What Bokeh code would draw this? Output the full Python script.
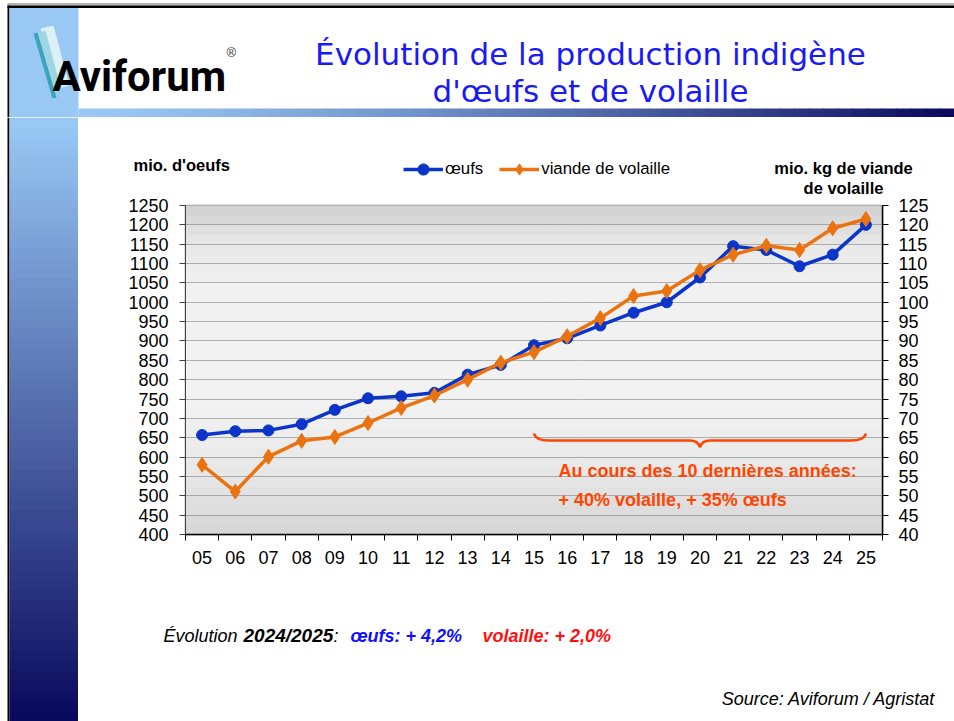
import numpy as np
from bokeh.plotting import figure
from bokeh.layouts import column, row
from bokeh.models import (Range1d, LinearAxis, FixedTicker, Label, BoxAnnotation,
                          Legend, LegendItem, ColumnDataSource)
from bokeh.embed import file_html
from bokeh.resources import INLINE

# ---------------- data ----------------
years = ["05", "06", "07", "08", "09", "10", "11", "12", "13", "14", "15",
         "16", "17", "18", "19", "20", "21", "22", "23", "24", "25"]
eggs = [657, 667, 669, 685, 722, 752, 757, 766, 813, 838, 889,
        907, 940, 973, 1000, 1064, 1145, 1135, 1093, 1123, 1200]
poultry = [58.0, 51.1, 60.1, 64.2, 65.2, 68.8, 72.7, 75.9, 80.0, 84.4, 87.1,
           91.2, 95.9, 101.6, 102.9, 108.3, 112.3, 114.6, 113.5, 119.1, 121.5]
left_ticks = [400, 450, 500, 550, 600, 650, 700, 750, 800, 850, 900, 950,
              1000, 1050, 1100, 1150, 1200, 1250]
right_ticks = [40, 45, 50, 55, 60, 65, 70, 75, 80, 85, 90, 95,
               100, 105, 110, 115, 120, 125]
series_names = ["œufs", "viande de volaille"]
title_lines = ["Évolution de la production indigène", "d'œufs et de volaille"]

BLUE = "#0b35c9"
ORANGE = "#ea7310"
RED_ORANGE = "#ff4500"
FONT = "Liberation Sans"
LIGHT = (153, 200, 245)
NAVY = (10, 10, 94)

W, H = 954, 721
SIDE_W = 78
HEAD_H = 117
TOP_H = 79       # axis titles + legend strip
CHART_H = 404
NOTES_H = H - HEAD_H - TOP_H - CHART_H


def hexc(c):
    return "#%02x%02x%02x" % tuple(int(round(v)) for v in c)


def lerp(c0, c1, t):
    return hexc([a + (b - a) * t for a, b in zip(c0, c1)])


def deco_fig(w, h, x0, y0):
    f = figure(width=w, height=h, output_backend="svg", toolbar_location=None,
               x_range=Range1d(x0, x0 + w), y_range=Range1d(y0 + h, y0),
               x_axis_location=None, y_axis_location=None, min_border=0,
               outline_line_color=None, background_fill_color="white",
               border_fill_color="white")
    f.grid.visible = False
    return f


# ================= header =================
hd = deco_fig(W, HEAD_H, 0, 0)
hd.quad(left=[7], right=[W], top=[2.5], bottom=[5], fill_color="#b4b4b4", line_color=None)
hd.quad(left=[7], right=[W], top=[5], bottom=[7.5], fill_color="black", line_color=None)
hd.quad(left=[7], right=[9], top=[5], bottom=[HEAD_H], fill_color="black", line_color=None)
hd.quad(left=[9], right=[SIDE_W], top=[7.5], bottom=[HEAD_H], fill_color=hexc(LIGHT), line_color=None)
nt = 60
bx = np.linspace(SIDE_W, W, nt + 1)
bcols = [lerp(LIGHT, NAVY, (i / (nt - 1)) ** 1.3) for i in range(nt)]
hd.quad(left=bx[:-1], right=bx[1:] + 0.8, top=[108] * nt, bottom=[117] * nt,
        fill_color=bcols, line_color=None)
# feather of the logo
hd.patches(xs=[[40, 53, 69, 58], [36, 45, 61, 55], [33, 37, 56, 52]],
           ys=[[28, 25, 85, 88], [33, 30, 90, 93], [33, 32, 97, 98]],
           fill_color=["#dcf0f5", "#9fd6e4", "#3aa3bd"], line_color=None)
hd.add_layout(Label(x=52, y=76, text="Aviforum", text_font="Roboto", text_font_size="42px",
                    text_font_style="bold", text_color="black", text_baseline="alphabetic"))
hd.add_layout(Label(x=226, y=52, text="®", text_font=FONT, text_font_size="13px",
                    text_color="#333333", text_baseline="alphabetic"))
hd.add_layout(Label(x=590, y=53, text=title_lines[0], text_font="DejaVu Sans", text_font_size="31px",
                    text_color="#1a1af5", text_baseline="alphabetic", text_align="center"))
hd.add_layout(Label(x=590, y=90, text=title_lines[1], text_font="DejaVu Sans", text_font_size="31px",
                    text_color="#1a1af5", text_baseline="alphabetic", text_align="center"))

# ================= sidebar =================
sd = deco_fig(SIDE_W, H - HEAD_H, 0, HEAD_H)
sd.quad(left=[7], right=[9], top=[HEAD_H], bottom=[H], fill_color="black", line_color=None)
ns = 60
syv = np.linspace(HEAD_H, H, ns + 1)
scols = [lerp(LIGHT, NAVY, i / (ns - 1)) for i in range(ns)]
sd.quad(left=[9] * ns, right=[SIDE_W] * ns, top=syv[:-1], bottom=syv[1:] + 0.8,
        fill_color=scols, line_color=None)

# ================= axis titles + legend strip =================
tp = deco_fig(W - SIDE_W, TOP_H, SIDE_W, HEAD_H)
tp.add_layout(Label(x=133, y=164, text="mio. d'oeufs", text_font=FONT, text_font_size="16.5px",
                    text_font_style="bold", text_color="black", text_baseline="alphabetic"))
tp.add_layout(Label(x=843, y=167, text="mio. kg de viande", text_font=FONT, text_font_size="16.5px",
                    text_font_style="bold", text_color="black", text_baseline="alphabetic",
                    text_align="center"))
tp.add_layout(Label(x=843, y=187, text="de volaille", text_font=FONT, text_font_size="16.5px",
                    text_font_style="bold", text_color="black", text_baseline="alphabetic",
                    text_align="center"))
# legend proxies (same styles as the series of the chart; their point lies outside the strip)
proxy = ColumnDataSource(dict(x=[0], y=[-100]))
le0 = tp.line("x", "y", source=proxy, line_color=BLUE, line_width=3.5)
se0 = tp.scatter("x", "y", source=proxy, marker="circle", size=11, fill_color=BLUE, line_color=BLUE)
lp0 = tp.line("x", "y", source=proxy, line_color=ORANGE, line_width=3.5)
sp0 = tp.scatter("x", "y", source=proxy, marker="diamond", size=15, fill_color=ORANGE, line_color=ORANGE)
legend = Legend(items=[LegendItem(label=series_names[0], renderers=[le0, se0]),
                       LegendItem(label=series_names[1], renderers=[lp0, sp0])],
                orientation="horizontal", location=(403 - SIDE_W, 13), padding=0, margin=0,
                border_line_color=None, background_fill_alpha=0,
                label_text_font=FONT, label_text_font_size="16.8px", label_text_color="black",
                glyph_width=40, glyph_height=28, label_standoff=2, spacing=16)
tp.add_layout(legend, "center")

# ================= chart =================
CW = W - SIDE_W
FRAME_L, FRAME_R, FRAME_T, FRAME_B = 185, 882, 205, 534  # page px
y_off = HEAD_H + TOP_H
p = figure(width=CW, height=CHART_H, output_backend="svg", toolbar_location=None,
           x_range=Range1d(-0.5, len(years) - 0.5), y_range=Range1d(400, 1250),
           min_border_left=FRAME_L - SIDE_W, min_border_right=W - FRAME_R,
           min_border_top=FRAME_T - y_off, min_border_bottom=y_off + CHART_H - FRAME_B,
           background_fill_color="white", border_fill_color="white",
           outline_line_color="#8c8c8c", outline_line_width=1.5)
p.extra_y_ranges = {"right": Range1d(40, 125)}

nb = 34
edges = np.linspace(400, 1250, nb + 1)
for i in range(nb):
    ymid = (edges[i] + edges[i + 1]) / 2
    f = (1250 - ymid) / 850.0
    g = np.interp(f, [0, 0.12, 0.25, 0.6, 0.8, 1.0], [208, 232, 241, 242, 232, 214])
    p.add_layout(BoxAnnotation(bottom=edges[i] - 1, top=edges[i + 1] + 1,
                               fill_color=hexc((g, g, g)), fill_alpha=1,
                               line_color=None, level="image"))

xax = p.xaxis[0]
xax.ticker = FixedTicker(ticks=list(range(len(years))),
                         minor_ticks=[i - 0.5 for i in range(len(years) + 1)])
xax.major_label_overrides = {i: y for i, y in enumerate(years)}
xax.major_tick_out = 0
xax.major_tick_in = 0
xax.minor_tick_out = 6
xax.minor_tick_in = 0
xax.minor_tick_line_color = "black"
xax.axis_line_color = "black"
xax.axis_line_width = 1.5
xax.major_label_text_font = FONT
xax.major_label_text_font_size = "18px"
xax.major_label_text_color = "black"
xax.major_label_standoff = 10

yax = p.yaxis[0]
yax.ticker = FixedTicker(ticks=left_ticks)
yax.major_tick_out = 6
yax.major_tick_in = 0
yax.minor_tick_out = 0
yax.minor_tick_in = 0
yax.axis_line_color = "#404040"
yax.major_tick_line_color = "#404040"
yax.major_label_text_font = FONT
yax.major_label_text_font_size = "18px"
yax.major_label_text_color = "black"
yax.major_label_standoff = 11

rax = LinearAxis(y_range_name="right", ticker=FixedTicker(ticks=right_ticks))
rax.major_tick_out = 6
rax.major_tick_in = 0
rax.minor_tick_out = 0
rax.minor_tick_in = 0
rax.axis_line_color = "black"
rax.axis_line_width = 1.5
rax.major_label_text_font = FONT
rax.major_label_text_font_size = "18px"
rax.major_label_text_color = "black"
rax.major_label_standoff = 10
p.add_layout(rax, "right")

p.xgrid.visible = False
p.ygrid[0].ticker = FixedTicker(ticks=left_ticks)
p.ygrid.grid_line_color = "#6e6e6e"
p.ygrid.grid_line_dash = "1 1"
p.ygrid.grid_line_width = 1

# brace over the last ten years
i0 = years.index("15")
i1 = years.index("25")
mid = (i0 + i1) / 2
y_end, y_flat, y_tip = 661, 643, 625
p.quadratic(x0=[i0, i1], y0=[y_end, y_end], x1=[i0 + 0.45, i1 - 0.45], y1=[y_flat, y_flat],
            cx=[i0 + 0.05, i1 - 0.05], cy=[y_flat, y_flat], line_color=RED_ORANGE, line_width=2.5)
p.segment(x0=[i0 + 0.45, mid + 0.3], y0=[y_flat, y_flat], x1=[mid - 0.3, i1 - 0.45], y1=[y_flat, y_flat],
          line_color=RED_ORANGE, line_width=2.5)
p.quadratic(x0=[mid - 0.3, mid + 0.3], y0=[y_flat, y_flat], x1=[mid, mid], y1=[y_tip, y_tip],
            cx=[mid - 0.05, mid + 0.05], cy=[y_flat, y_flat], line_color=RED_ORANGE, line_width=2.5)
p.add_layout(Label(x=i0 + 0.74, y=563, text="Au cours des 10 dernières années:",
                   text_font=FONT, text_font_size="18px", text_font_style="bold",
                   text_color=RED_ORANGE, text_baseline="alphabetic", text_align="left"))
p.add_layout(Label(x=i0 + 0.74, y=490, text="+ 40% volaille, + 35% œufs",
                   text_font=FONT, text_font_size="18px", text_font_style="bold",
                   text_color=RED_ORANGE, text_baseline="alphabetic", text_align="left"))

src = ColumnDataSource(dict(x=list(range(len(years))), eggs=eggs, poultry=poultry))
p.line("x", "eggs", source=src, line_color=BLUE, line_width=3.5)
p.scatter("x", "eggs", source=src, marker="circle", size=11, fill_color=BLUE, line_color=BLUE)
p.line("x", "poultry", source=src, y_range_name="right", line_color=ORANGE, line_width=3.5)
p.scatter("x", "poultry", source=src, y_range_name="right", marker="diamond", size=15,
          fill_color=ORANGE, line_color=ORANGE)

# ================= notes =================
nt_fig = deco_fig(W - SIDE_W, NOTES_H, SIDE_W, H - NOTES_H)
notes = [
    (163, "Évolution", "italic", "black", "18px"),
    (243, "2024/2025", "bold italic", "black", "19px"),
    (333, ":", "italic", "black", "18px"),
    (350, "œufs: + 4,2%", "bold italic", "#1010ff", "18px"),
    (482, "volaille: + 2,0%", "bold italic", "#ff1010", "18px"),
]
for cx, txt, style, col, fs in notes:
    nt_fig.add_layout(Label(x=cx, y=635, text=txt, text_font=FONT, text_font_size=fs,
                            text_font_style=style, text_color=col, text_baseline="alphabetic"))
nt_fig.add_layout(Label(x=935, y=698, text="Source: Aviforum / Agristat", text_font=FONT,
                        text_font_size="18px", text_font_style="italic", text_color="black",
                        text_baseline="alphabetic", text_align="right"))

layout = column(hd, row(sd, column(row(tp), p, row(nt_fig))))
open("out.html", "w").write(file_html(layout, INLINE))
